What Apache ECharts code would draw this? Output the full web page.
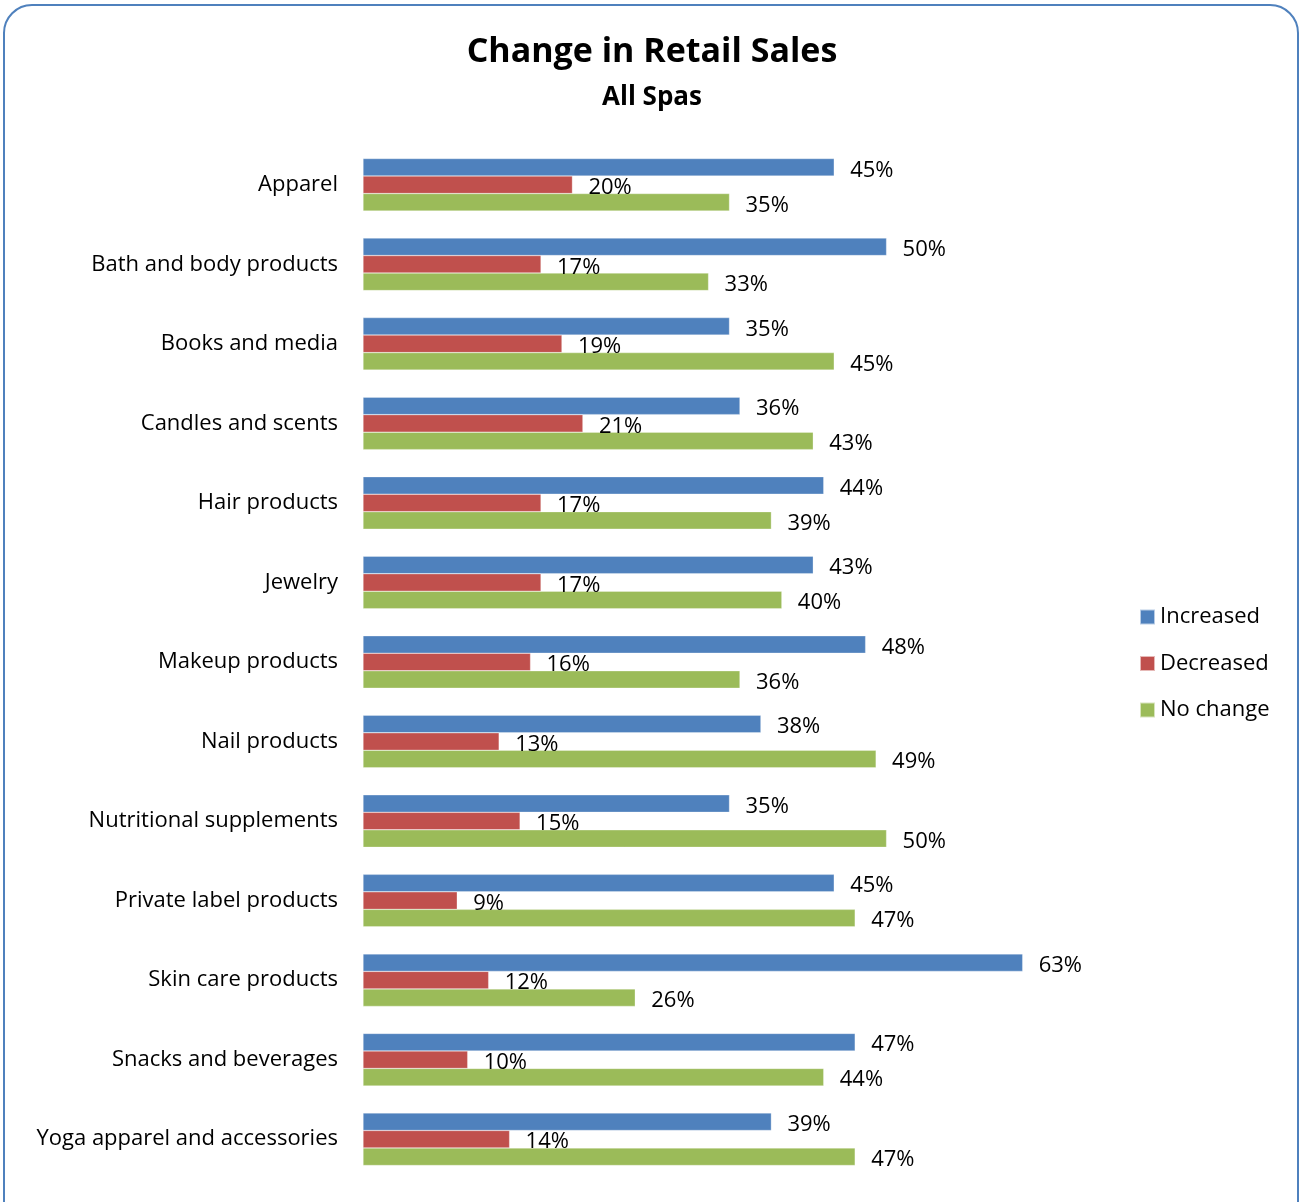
<!DOCTYPE html>
<html>
<head>
<meta charset="utf-8">
<title>Change in Retail Sales</title>
<script src="https://cdn.jsdelivr.net/npm/echarts@6/dist/echarts.min.js"></script>
<style>
  html, body { margin: 0; padding: 0; background: #ffffff; }
  #chart { width: 1300px; height: 1202px; }
</style>
</head>
<body>
<div id="chart"></div>
<script>
// Product categories, listed top to bottom
const categories = [
  'Apparel',
  'Bath and body products',
  'Books and media',
  'Candles and scents',
  'Hair products',
  'Jewelry',
  'Makeup products',
  'Nail products',
  'Nutritional supplements',
  'Private label products',
  'Skin care products',
  'Snacks and beverages',
  'Yoga apparel and accessories'
];

// Share of spas reporting each outcome (%)
const increased = [45, 50, 35, 36, 44, 43, 48, 38, 35, 45, 63, 47, 39];
const decreased = [20, 17, 19, 21, 17, 17, 16, 13, 15, 9, 12, 10, 14];
const noChange  = [35, 33, 45, 43, 39, 40, 36, 49, 50, 47, 26, 44, 47];

const seriesNames = ['Increased', 'Decreased', 'No change'];
const colors = ['#4F81BD', '#C0504D', '#9BBB59'];

const FONT = '"Open Sans", "Noto Sans", sans-serif';

const chart = echarts.init(document.getElementById('chart'));

function barSeries(name, data, color) {
  return {
    name: name,
    type: 'bar',
    data: data,
    barGap: '0%',
    barCategoryGap: '34%',
    itemStyle: { color: color, borderColor: 'rgba(255,255,255,0.6)', borderWidth: 0.5 },
    label: {
      show: true,
      position: 'right',
      distance: 16,
      offset: [0, 3],
      formatter: '{c}%',
      color: '#000',
      fontFamily: FONT,
      fontSize: 22
    },
    emphasis: { disabled: true }
  };
}

chart.setOption({
  animation: false,
  backgroundColor: '#ffffff',
  title: {
    text: 'Change in Retail Sales',
    subtext: 'All Spas',
    left: 647,
    textAlign: 'center',
    top: 30,
    itemGap: 16,
    textStyle: { fontFamily: FONT, fontWeight: 'bold', fontSize: 34, color: '#000' },
    subtextStyle: { fontFamily: FONT, fontWeight: 'bold', fontSize: 26, color: '#000' }
  },
  legend: {
    orient: 'vertical',
    left: 1139,
    top: 606,
    padding: 0,
    itemWidth: 15,
    itemHeight: 15,
    itemGap: 24.5,
    icon: 'rect',
    textStyle: { fontFamily: FONT, fontSize: 22, color: '#000' },
    data: seriesNames
  },
  grid: {
    left: 363,
    right: 204,
    top: 145,
    bottom: 23,
    containLabel: false
  },
  xAxis: {
    type: 'value',
    min: 0,
    max: 70,
    interval: 10,
    show: false
  },
  yAxis: {
    type: 'category',
    data: categories,
    inverse: true,
    axisLine: { show: false },
    axisTick: { show: false },
    splitLine: { show: false },
    axisLabel: {
      margin: 25,
      fontFamily: FONT,
      fontSize: 22,
      color: '#000',
      padding: [2, 0, 0, 0]
    }
  },
  graphic: [{
    type: 'rect',
    silent: true,
    z: 100,
    shape: { x: 4, y: 5, width: 1294, height: 1240, r: 28 },
    style: { fill: 'none', stroke: '#4F81BD', lineWidth: 2 }
  }],
  series: [
    barSeries(seriesNames[0], increased, colors[0]),
    barSeries(seriesNames[1], decreased, colors[1]),
    barSeries(seriesNames[2], noChange, colors[2])
  ]
});
</script>
</body>
</html>
